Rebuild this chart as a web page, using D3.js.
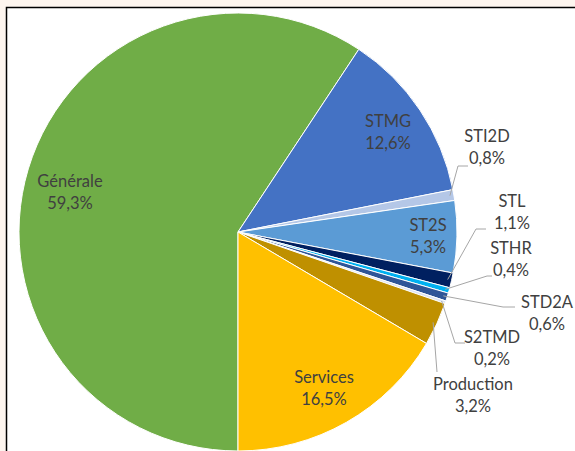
<!DOCTYPE html>
<html>
<head>
<meta charset="utf-8">
<script src="https://cdn.jsdelivr.net/npm/d3@7"></script>
<style>
  body { margin: 0; background: #fdf5ef; }
  svg { display: block; }
  .lbl { font-family: Lato, "Open Sans", sans-serif; font-size: 16.5px; fill: #404040; }
</style>
</head>
<body>
<div id="chart"></div>
<script>
/* DATA */
const categories = ["Générale", "STMG", "STI2D", "ST2S", "STL", "STHR", "STD2A", "S2TMD", "Production", "Services"];
const shares = [59.3, 12.6, 0.8, 5.3, 1.1, 0.4, 0.6, 0.2, 3.2, 16.5];
const colors = ["#70ad47", "#4472c4", "#b4c7e7", "#5b9bd5", "#002060", "#00b0f0", "#2f5597", "#dae3f3", "#bf9000", "#ffc000"];

/* LAYOUT */
const width = 575, height = 451;
const cx = 238, cy = 232, radius = 219;

// label placement (centre of the first text line, relative to pie centre)
// and leader bends for the small slices
const labelPos = {
  "Générale": { x: -168, y: -51 },
  "STMG": { x: 150, y: -111 },
  "STI2D": { x: 249, y: -96, leader: [[220, -66], [230, -66]] },
  "ST2S": { x: 190, y: -7 },
  "STL": { x: 274, y: -31, leader: [[238, -3], [248, -3]] },
  "STHR": { x: 273, y: 16, leader: [[249, 44], [254, 44]] },
  "STD2A": { x: 309, y: 70, leader: [[265, 75], [277, 75]] },
  "S2TMD": { x: 254, y: 105, leader: [[217, 111], [227, 111]] },
  "Production": { x: 235, y: 152, leader: [[199, 140]] },
  "Services": { x: 86, y: 145 }
};

const data = categories.map((c, i) => ({ name: c, value: shares[i], color: colors[i] }));

const svg = d3.select("#chart")
  .append("svg")
  .attr("width", width)
  .attr("height", height);

// chart frame
svg.append("rect")
  .attr("x", 6.5)
  .attr("y", 7.5)
  .attr("width", width)
  .attr("height", height)
  .attr("fill", "#fff")
  .attr("stroke", "#000")
  .attr("stroke-width", 1.5);

const pie = d3.pie()
  .value(d => d.value)
  .sort(null)
  .startAngle(Math.PI)
  .endAngle(3 * Math.PI);

const arc = d3.arc().innerRadius(0).outerRadius(radius);

const arcs = pie(data);

const g = svg.append("g").attr("transform", `translate(${cx},${cy})`);

g.selectAll("path.slice")
  .data(arcs)
  .join("path")
  .attr("class", "slice")
  .attr("d", arc)
  .attr("fill", d => d.data.color)
  .attr("stroke", "#fff")
  .attr("stroke-width", 1);

// leader lines
const edgeArc = d3.arc().innerRadius(radius - 4).outerRadius(radius - 4);
g.selectAll("polyline.leader")
  .data(arcs.filter(d => labelPos[d.data.name].leader))
  .join("polyline")
  .attr("class", "leader")
  .attr("fill", "none")
  .attr("stroke", "#a6a6a6")
  .attr("stroke-width", 1)
  .attr("points", d => {
    const p0 = edgeArc.centroid(d);
    return [p0].concat(labelPos[d.data.name].leader).map(p => p.join(",")).join(" ");
  });

// labels
const labels = g.selectAll("text.lbl")
  .data(arcs)
  .join("text")
  .attr("class", "lbl")
  .attr("text-anchor", "middle")
  .attr("x", d => labelPos[d.data.name].x)
  .attr("y", d => labelPos[d.data.name].y);

labels.append("tspan")
  .attr("x", d => labelPos[d.data.name].x)
  .attr("dy", "0.35em")
  .text(d => d.data.name);

labels.append("tspan")
  .attr("x", d => labelPos[d.data.name].x)
  .attr("dy", 22)
  .text(d => d.data.value.toFixed(1).replace(".", ",") + "%");
</script>
</body>
</html>
